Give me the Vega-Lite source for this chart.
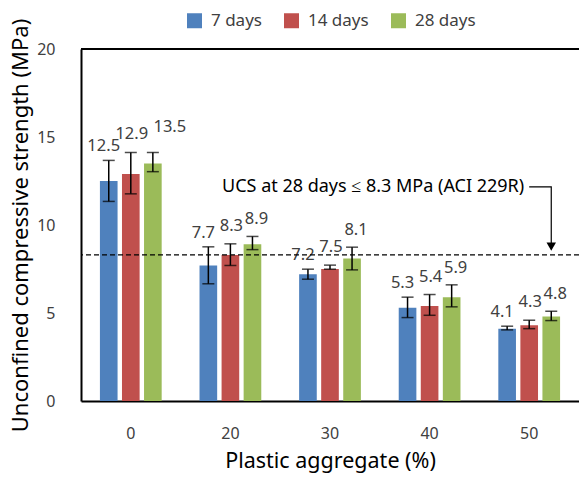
{
  "$schema": "https://vega.github.io/schema/vega-lite/v6.json",
  "width": 498,
  "height": 352,
  "autosize": {"type": "none"},
  "padding": {"left": 81, "top": 49, "right": 0, "bottom": 76},
  "background": "white",
  "config": {
    "font": "Noto Sans",
    "view": {"stroke": null},
    "axis": {"grid": false, "ticks": false, "labelColor": "#404040", "titleColor": "#000000", "titleFontWeight": "normal", "labelFont": "Noto Sans", "titleFont": "Noto Sans"},
    "legend": {"labelFont": "Noto Sans"}
  },
  "datasets": {
    "bars": [
      {"plastic": "0", "age": "7 days", "ucs": 12.5, "lo": 11.34, "hi": 13.67},
      {"plastic": "0", "age": "14 days", "ucs": 12.9, "lo": 11.77, "hi": 14.12},
      {"plastic": "0", "age": "28 days", "ucs": 13.5, "lo": 13.03, "hi": 14.12},
      {"plastic": "20", "age": "7 days", "ucs": 7.7, "lo": 6.66, "hi": 8.76},
      {"plastic": "20", "age": "14 days", "ucs": 8.3, "lo": 7.7, "hi": 8.93},
      {"plastic": "20", "age": "28 days", "ucs": 8.9, "lo": 8.6, "hi": 9.35},
      {"plastic": "30", "age": "7 days", "ucs": 7.2, "lo": 6.92, "hi": 7.49},
      {"plastic": "30", "age": "14 days", "ucs": 7.5, "lo": 7.49, "hi": 7.72},
      {"plastic": "30", "age": "28 days", "ucs": 8.1, "lo": 7.45, "hi": 8.74},
      {"plastic": "40", "age": "7 days", "ucs": 5.3, "lo": 4.74, "hi": 5.9},
      {"plastic": "40", "age": "14 days", "ucs": 5.4, "lo": 4.87, "hi": 6.05},
      {"plastic": "40", "age": "28 days", "ucs": 5.9, "lo": 5.35, "hi": 6.6},
      {"plastic": "50", "age": "7 days", "ucs": 4.1, "lo": 4.04, "hi": 4.25},
      {"plastic": "50", "age": "14 days", "ucs": 4.3, "lo": 4.11, "hi": 4.59},
      {"plastic": "50", "age": "28 days", "ucs": 4.8, "lo": 4.57, "hi": 5.1}
    ],
    "connector": [
      {"plastic": "50", "age": "14 days", "y": 12.17, "order": 1},
      {"plastic": "50", "age": "28 days", "y": 12.17, "order": 2},
      {"plastic": "50", "age": "28 days", "y": 8.9, "order": 3}
    ],
    "note": [
      {"plastic": "50", "age": "14 days", "y": 12.17, "text": "UCS at 28 days ≤ 8.3 MPa (ACI 229R)"}
    ],
    "arrow": [
      {"plastic": "50", "age": "28 days", "y": 8.77}
    ]
  },
  "encoding": {
    "x": {
      "field": "plastic", "type": "nominal",
      "scale": {"domain": ["0", "20", "30", "40", "50"], "paddingInner": 0.38, "paddingOuter": 0.19},
      "axis": {"title": "Plastic aggregate (%)", "labelAngle": 0, "labelFontSize": 16, "labelPadding": 24, "titleFontSize": 21.5, "titlePadding": 9, "domainColor": "#000000", "domainWidth": 2}
    },
    "xOffset": {
      "field": "age", "type": "nominal",
      "scale": {"domain": ["7 days", "14 days", "28 days"], "paddingInner": 0.2, "paddingOuter": 0}
    }
  },
  "layer": [
    {
      "data": {"name": "bars"},
      "mark": {"type": "bar"},
      "encoding": {
        "y": {
          "field": "ucs", "type": "quantitative",
          "scale": {"domain": [0, 20], "nice": false},
          "axis": {"title": "Unconfined compressive strength (MPa)", "values": [0, 5, 10, 15, 20], "labelFontSize": 16, "labelPadding": 26, "titleFontSize": 22, "titlePadding": 4, "domainColor": "#000000", "domainWidth": 2}
        },
        "color": {
          "field": "age", "type": "nominal",
          "scale": {"domain": ["7 days", "14 days", "28 days"], "range": ["#4F81BD", "#C0504D", "#9BBB59"]},
          "legend": {"title": null, "orient": "none", "direction": "horizontal", "legendX": 105, "legendY": -37, "symbolType": "square", "symbolSize": 225, "symbolStrokeWidth": 0, "labelFontSize": 17, "labelColor": "#404040", "labelOffset": 8, "columnPadding": 21}
        }
      }
    },
    {
      "data": {"name": "bars"},
      "mark": {"type": "rule", "color": "#000000", "strokeWidth": 1.5},
      "encoding": {
        "y": {"field": "lo", "type": "quantitative"},
        "y2": {"field": "hi"}
      }
    },
    {
      "data": {"name": "bars"},
      "mark": {"type": "tick", "color": "#000000", "thickness": 1.5, "size": 12, "orient": "horizontal"},
      "encoding": {"y": {"field": "lo", "type": "quantitative"}}
    },
    {
      "data": {"name": "bars"},
      "mark": {"type": "tick", "color": "#000000", "thickness": 1.5, "size": 12, "orient": "horizontal"},
      "encoding": {"y": {"field": "hi", "type": "quantitative"}}
    },
    {
      "data": {"name": "bars"},
      "transform": [{"filter": "datum.age == '7 days'"}],
      "mark": {"type": "text", "fontSize": 16.5, "color": "#404040", "baseline": "alphabetic", "dy": -9, "dx": -5},
      "encoding": {
        "y": {"field": "hi", "type": "quantitative"},
        "text": {"field": "ucs", "type": "quantitative", "format": ".1f"}
      }
    },
    {
      "data": {"name": "bars"},
      "transform": [{"filter": "datum.age == '14 days'"}],
      "mark": {"type": "text", "fontSize": 16.5, "color": "#404040", "baseline": "alphabetic", "dy": -13, "dx": 1},
      "encoding": {
        "y": {"field": "hi", "type": "quantitative"},
        "text": {"field": "ucs", "type": "quantitative", "format": ".1f"}
      }
    },
    {
      "data": {"name": "bars"},
      "transform": [{"filter": "datum.age == '28 days' && datum.plastic != '0'"}],
      "mark": {"type": "text", "fontSize": 16.5, "color": "#404040", "baseline": "alphabetic", "dy": -12, "dx": 4},
      "encoding": {
        "y": {"field": "hi", "type": "quantitative"},
        "text": {"field": "ucs", "type": "quantitative", "format": ".1f"}
      }
    },
    {
      "data": {"name": "bars"},
      "transform": [{"filter": "datum.age == '28 days' && datum.plastic == '0'"}],
      "mark": {"type": "text", "fontSize": 16.5, "color": "#404040", "baseline": "alphabetic", "dy": -20, "dx": 17},
      "encoding": {
        "y": {"field": "hi", "type": "quantitative"},
        "text": {"field": "ucs", "type": "quantitative", "format": ".1f"}
      }
    },
    {
      "data": {"values": [{"v": 8.3}]},
      "mark": {"type": "rule", "color": "#000000", "strokeWidth": 1.2, "strokeDash": [5, 3]},
      "encoding": {"y": {"field": "v", "type": "quantitative"}, "x": null, "xOffset": null}
    },
    {
      "data": {"values": [{"v": 20}]},
      "mark": {"type": "rule", "color": "#000000", "strokeWidth": 2},
      "encoding": {"y": {"field": "v", "type": "quantitative"}, "x": null, "xOffset": null}
    },
    {
      "data": {"name": "connector"},
      "mark": {"type": "line", "color": "#000000", "strokeWidth": 1.2},
      "encoding": {
        "y": {"field": "y", "type": "quantitative"},
        "order": {"field": "order", "type": "quantitative"}
      }
    },
    {
      "data": {"name": "arrow"},
      "mark": {"type": "point", "shape": "triangle-down", "filled": true, "color": "#000000", "size": 90, "opacity": 1},
      "encoding": {"y": {"field": "y", "type": "quantitative"}}
    },
    {
      "data": {"name": "note"},
      "mark": {"type": "text", "fontSize": 18, "color": "#000000", "align": "right", "baseline": "middle", "dx": -5},
      "encoding": {
        "y": {"field": "y", "type": "quantitative"},
        "text": {"field": "text", "type": "nominal"}
      }
    }
  ]
}
